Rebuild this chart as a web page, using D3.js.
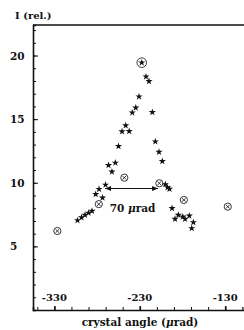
<!DOCTYPE html>
<html>
<head>
<meta charset="utf-8">
<script src="https://cdn.jsdelivr.net/npm/d3@7"></script>
<style>
  body { margin: 0; background: #fff; }
  svg { display: block; }
  text { font-family: "DejaVu Serif", serif; fill: #111; font-weight: bold; }
  .axis path, .axis line { stroke: #111; }
</style>
</head>
<body>
<div id="chart"></div>
<script>
// star series (crystal angle in µrad, relative intensity)
var starAngle = [-227.7, -222.7, -219.2, -230.9, -234.7, -238.8, -215.3, -246.5, -250.8, -242.4,
                 -211.8, -254.9, -207.5, -203.6, -258.6, -266.6, -262.6, -270.1, -277.7, -281.6,
                 -273.6, -200.1, -197.5, -195.2, -302.9, -298.2, -294.1, -290.0, -285.9, -192.2,
                 -184.9, -188.7, -179.7, -177.0, -172.0, -167.3, -169.2];
var starI     = [19.44, 18.34, 17.98, 16.77, 15.9, 15.51, 15.54, 14.5, 14.03, 14.05,
                 13.24, 12.87, 12.42, 11.69, 11.57, 11.38, 10.87, 9.84, 9.5, 9.1,
                 8.82, 9.88, 9.63, 9.51, 7.04, 7.27, 7.47, 7.63, 7.78, 8.0,
                 7.47, 7.15, 7.33, 7.15, 7.41, 6.89, 6.42];

// circled-cross series
var circAngle = [-326.5, -278.0, -248.1, -227.7, -207.1, -178.4, -127.0];
var circI     = [6.21, 8.32, 10.4, 19.44, 9.96, 8.65, 8.12];

var xLabels = [-330, -230, -130];
var yLabels = [5, 10, 15, 20];
var arrowFrom = -270.7, arrowTo = -208.6, arrowI = 9.55;

var W = 244, H = 330;
var svg = d3.select("#chart").append("svg")
    .attr("width", W)
    .attr("height", H);

var x = d3.scaleLinear().domain([-355, -108]).range([33, 244]);
var y = d3.scaleLinear().domain([0, 22.4]).range([310, 25]);

// top frame line
svg.append("line").attr("x1", 33).attr("x2", W).attr("y1", 25).attr("y2", 25)
    .attr("stroke", "#111").attr("stroke-width", 1.6);

// y axis ticks (inside)
svg.append("g").attr("class", "axis")
    .attr("transform", "translate(33,0)")
    .call(d3.axisLeft(y).tickValues(d3.range(1, 23)).tickSize(-3).tickFormat(""))
    .call(function(g) { g.select(".domain").attr("stroke-width", 1.6); });
svg.append("g").attr("class", "axis")
    .attr("transform", "translate(33,0)")
    .call(d3.axisLeft(y).tickValues(yLabels).tickSize(-5).tickFormat(""))
    .call(function(g) { g.select(".domain").remove(); });

svg.selectAll(".ylab").data(yLabels).enter().append("text")
    .attr("x", 10)
    .attr("y", function(d) { return y(d) + 4; })
    .attr("font-size", 10.5)
    .text(function(d) { return d; });

// x axis ticks (inside)
svg.append("g").attr("class", "axis")
    .attr("transform", "translate(0,310)")
    .call(d3.axisBottom(x).tickValues(d3.range(-350, -100, 20)).tickSize(-3).tickFormat(""))
    .call(function(g) { g.select(".domain").attr("stroke-width", 1.6); });
svg.append("g").attr("class", "axis")
    .attr("transform", "translate(0,310)")
    .call(d3.axisBottom(x).tickValues(xLabels).tickSize(-4).tickFormat(""))
    .call(function(g) {
        g.select(".domain").remove();
        g.selectAll("line").attr("stroke-width", 1.6);
    });

svg.selectAll(".xlab").data(xLabels).enter().append("text")
    .attr("x", function(d) { return x(d); })
    .attr("y", 301)
    .attr("text-anchor", "middle")
    .attr("font-size", 10)
    .text(function(d) { return d; });

// axis titles
svg.append("text").attr("x", 15).attr("y", 19).attr("font-size", 10)
    .text("I (rel.)");
var xt = svg.append("text").attr("x", 140).attr("y", 326)
    .attr("text-anchor", "middle").attr("font-size", 10.5);
xt.append("tspan").text("crystal angle (");
xt.append("tspan").attr("font-style", "italic").text("\u03bc");
xt.append("tspan").text("rad)");

// circled crosses
var circ = svg.selectAll(".circ").data(circAngle).enter().append("g")
    .attr("transform", function(d, i) { return "translate(" + x(d) + "," + y(circI[i]) + ")"; });
circ.append("circle")
    .attr("r", function(d, i) { return circI[i] > 18 ? 4.8 : 3.6; })
    .attr("fill", "none").attr("stroke", "#222").attr("stroke-width", 0.9);
circ.filter(function(d, i) { return circI[i] < 18; })
    .append("path")
    .attr("d", "M-1.8,-1.8L1.8,1.8M-1.8,1.8L1.8,-1.8")
    .attr("stroke", "#222").attr("stroke-width", 0.9);

// stars
svg.selectAll(".star").data(starAngle).enter().append("path")
    .attr("transform", function(d, i) { return "translate(" + x(d) + "," + y(starI[i]) + ")"; })
    .attr("d", d3.symbol().type(d3.symbolStar).size(16))
    .attr("fill", "#111");

// 70 µrad arrow
svg.append("defs").append("marker")
    .attr("id", "ah").attr("viewBox", "0 0 10 10")
    .attr("refX", 10).attr("refY", 5)
    .attr("markerWidth", 6).attr("markerHeight", 6)
    .attr("orient", "auto-start-reverse")
    .append("path").attr("d", "M0,1L10,5L0,9Z").attr("fill", "#111");
svg.append("line")
    .attr("x1", x(arrowFrom)).attr("x2", x(arrowTo))
    .attr("y1", y(arrowI)).attr("y2", y(arrowI))
    .attr("stroke", "#111").attr("stroke-width", 1)
    .attr("marker-start", "url(#ah)").attr("marker-end", "url(#ah)");
var at = svg.append("text").attr("x", x((arrowFrom + arrowTo) / 2) + 1).attr("y", 212)
    .attr("text-anchor", "middle").attr("font-size", 10.5);
at.append("tspan").text("70 ");
at.append("tspan").attr("font-style", "italic").text("\u03bc");
at.append("tspan").text("rad");
</script>
</body>
</html>
